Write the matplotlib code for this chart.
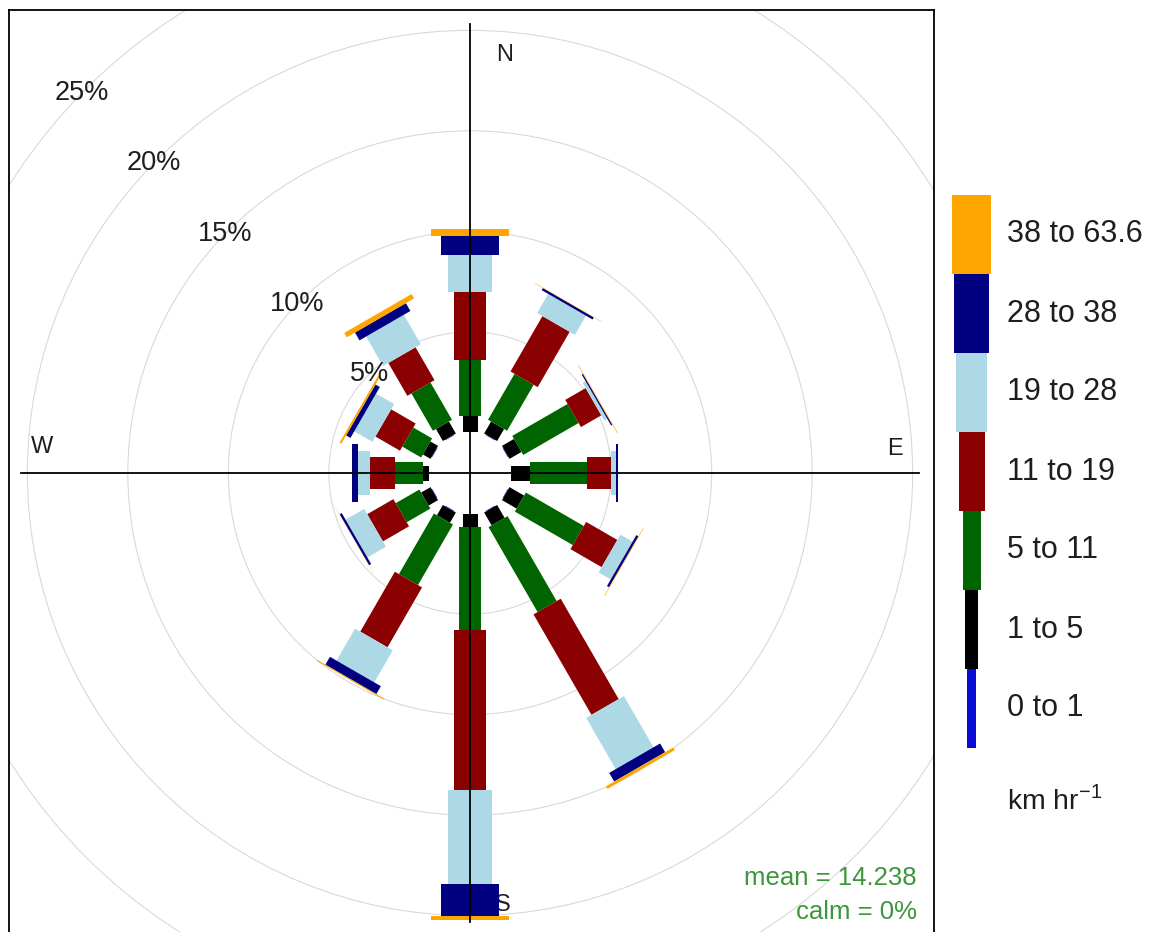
import numpy as np
import matplotlib
matplotlib.use('Agg')
import matplotlib.pyplot as plt
from matplotlib.patches import Polygon, Rectangle, Circle

plt.rcParams['font.family'] = ['Liberation Sans', 'DejaVu Sans']
plt.rcParams['mathtext.fontset'] = 'custom'
plt.rcParams['mathtext.rm'] = 'Liberation Sans'

# ---------------- data ----------------
directions = [0, 30, 60, 90, 120, 150, 180, 210, 240, 270, 300, 330]
speed_bins = ['0 to 1', '1 to 5', '5 to 11', '11 to 19', '19 to 28', '28 to 38', '38 to 63.6']
bin_colors = ['#0a0ad8', '#000000', '#006400', '#8b0000', '#add8e6', '#000080', '#ffa500']

freq_0_1    = [0.03, 0.03, 0.03, 0.03, 0.03, 0.03, 0.03, 0.03, 0.03, 0.03, 0.03, 0.03]
freq_1_5    = [0.76, 0.69, 0.69, 0.94, 0.84, 0.74, 0.63, 0.59, 0.54, 0.29, 0.44, 0.69]
freq_5_11   = [2.82, 2.64, 3.18, 2.82, 3.33, 4.88, 5.14, 3.48, 1.36, 1.40, 1.08, 2.14]
freq_11_19  = [3.35, 3.18, 1.17, 1.20, 1.79, 5.77, 7.93, 3.44, 1.50, 1.24, 1.41, 1.89]
freq_19_28  = [1.88, 1.10, 0.17, 0.23, 0.70, 2.94, 4.71, 1.84, 1.07, 0.58, 1.04, 1.69]
freq_28_38  = [0.95, 0.12, 0.07, 0.13, 0.12, 0.50, 1.59, 0.45, 0.12, 0.33, 0.25, 0.45]
freq_38_64  = [0.33, 0.02, 0.03, 0.01, 0.03, 0.15, 0.20, 0.05, 0.01, 0.00, 0.10, 0.25]

ring_levels = [5, 10, 15, 20, 25]
compass = ['N', 'E', 'S', 'W']
mean_speed = 14.238
calm_pct = 0

# ---------------- figure ----------------
W, H = 1155, 932
fig = plt.figure(figsize=(W / 100, H / 100), dpi=100)

# main panel (square box, pixel layout)
box_l, box_r, box_t = 9, 934, 10
box_b = box_t + (box_r - box_l)
cx, cy = 470, 473
scale = (box_r - box_l) / 46.02  # px per percent unit

ax = fig.add_axes([box_l / W, (H - box_b) / H, (box_r - box_l) / W, (box_b - box_t) / H])
ax.set_xlim(-(cx - box_l) / scale, (box_r - cx) / scale)
ax.set_ylim(-(box_b - cy) / scale, (cy - box_t) / scale)
ax.set_aspect('equal')
ax.set_xticks([]); ax.set_yticks([])
for s in ax.spines.values():
    s.set_linewidth(1.3)
    s.set_color('black')

series = [freq_0_1, freq_1_5, freq_5_11, freq_11_19, freq_19_28, freq_28_38, freq_38_64]
vals = np.array(series).T  # directions x bins
totals = vals.sum(axis=1)
offset = 0.1 * totals.max()

# bar full widths in px -> half widths in data units
bar_px = [9.7, 15.0, 22.0, 31.4, 43.6, 58.8, 77.8]
half_w = [p / scale / 2 for p in bar_px]

txt_col = '#1e1e1e'

# rings
for lev in ring_levels:
    ax.add_patch(Circle((0, 0), offset + lev, fill=False, edgecolor='#d9d9d9', linewidth=0.8, zorder=1))
    a = np.deg2rad(314.4)
    ax.text((offset + lev) * np.sin(a), (offset + lev) * np.cos(a), f'{lev}%',
            ha='center', va='center', fontsize=19.5, color=txt_col, zorder=6)

# compass labels
lab_pos = {'N': (1.74, 20.8), 'E': (21.14, 1.2), 'S': (1.64, -21.5), 'W': (-21.3, 1.3)}
for c in compass:
    ax.text(*lab_pos[c], c, ha='center', va='center', fontsize=17, color=txt_col, zorder=2)

# bars
for i, d in enumerate(directions):
    t = np.deg2rad(d)
    u = np.array([np.sin(t), np.cos(t)])
    p = np.array([np.cos(t), -np.sin(t)])
    cum = offset
    for j in range(len(speed_bins)):
        r1, r2 = cum, cum + vals[i, j]
        cum = r2
        if vals[i, j] <= 0:
            continue
        w = half_w[j]
        pts = [r1 * u - w * p, r2 * u - w * p, r2 * u + w * p, r1 * u + w * p]
        ax.add_patch(Polygon(pts, closed=True, facecolor=bin_colors[j], edgecolor='none', zorder=3))

# axis cross lines
L = 22.35
ax.plot([-L, L], [0, 0], color='black', lw=1.3, zorder=4)
ax.plot([0, 0], [-L, L], color='black', lw=1.3, zorder=4)

# mean / calm
ax.text((917 - cx) / scale, (cy - 878) / scale, f'mean = {mean_speed:.3f}', ha='right', va='center',
        fontsize=18.5, color='#3c963c', zorder=6)
ax.text((917 - cx) / scale, (cy - 912) / scale, f'calm = {calm_pct}%', ha='right', va='center',
        fontsize=18.5, color='#3c963c', zorder=6)

# ---------------- legend key ----------------
lax = fig.add_axes([0, 0, 1, 1], facecolor='none')
lax.set_xlim(0, W); lax.set_ylim(H, 0)
lax.axis('off')
key_top, key_bot, key_cx = 195, 748, 971.5
key_w = [8.7, 12.7, 18.0, 26.0, 30.7, 35.0, 38.5]
n = len(speed_bins)
bh = (key_bot - key_top) / n
for j in range(n):
    k = n - 1 - j  # top to bottom: highest bin first
    y0 = key_top + j * bh
    lax.add_patch(Rectangle((key_cx - key_w[k] / 2, y0), key_w[k], bh, facecolor=bin_colors[k], edgecolor='none'))
    lax.text(1007, y0 + bh / 2, speed_bins[k], ha='left', va='center', fontsize=22, color=txt_col)
lax.text(1007, 800, r'km hr$^{\mathregular{-1}}$', ha='left', va='center', fontsize=20.5, color=txt_col)

fig.savefig('out.png', dpi=100)
